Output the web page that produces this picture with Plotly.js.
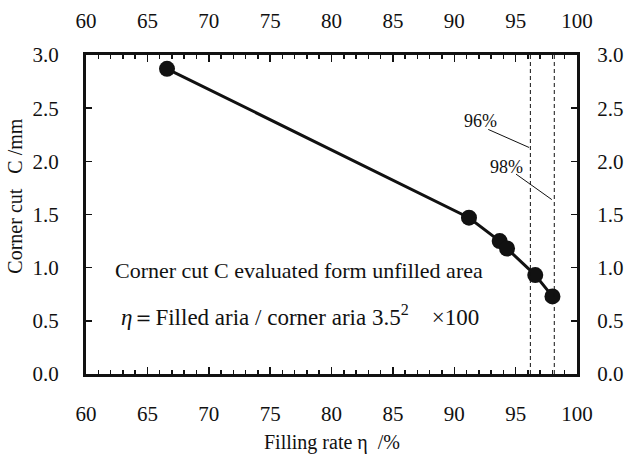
<!DOCTYPE html>
<html>
<head>
<meta charset="utf-8">
<script src="https://cdn.plot.ly/plotly-3.0.1.min.js"></script>
<style>html,body{margin:0;padding:0;background:#fff;}#chart{width:624px;height:454px;}</style>
</head>
<body>
<div id="chart"></div>
<script>
// Data
const fillingRate = [66.6, 91.2, 93.7, 94.3, 96.6, 98.0];   // η (%)
const cornerCut   = [2.87, 1.47, 1.25, 1.18, 0.93, 0.73];   // C (mm)
const refRates    = [96.2, 98.15];                           // dashed reference lines
const refLabels   = ["96%", "98%"];
const refLabelPos = [[92.1, 2.38], [94.27, 1.95]];
const refLeaders  = [[[92.77, 2.30], [96.1, 2.13]], [[95.03, 1.88], [97.95, 1.64]]];
const xTicks = [60, 65, 70, 75, 80, 85, 90, 95, 100];
const yTicks = [0.0, 0.5, 1.0, 1.5, 2.0, 2.5, 3.0];

const FONT = "Liberation Serif, Times New Roman, serif";
const INK = "#111111";

const traces = [
  {
    x: fillingRate, y: cornerCut, type: "scatter", mode: "lines+markers",
    line: {color: INK, width: 3},
    marker: {color: INK, size: 16},
    xaxis: "x", yaxis: "y", showlegend: false, hoverinfo: "skip"
  },
  {
    x: fillingRate, y: cornerCut, type: "scatter", mode: "markers",
    marker: {opacity: 0}, xaxis: "x2", yaxis: "y2", showlegend: false, hoverinfo: "skip"
  }
];

function xAxis(side, standoff) {
  return {
    range: [60, 100], tickvals: xTicks, ticktext: xTicks.map(String),
    ticks: "inside", ticklen: 7, tickwidth: 1.5, tickcolor: INK,
    minor: {dtick: 1, tick0: 60, ticks: "inside", ticklen: 4, tickwidth: 1.5, tickcolor: INK},
    showline: true, linewidth: 3, linecolor: INK,
    showgrid: false, zeroline: false, side: side,
    tickfont: {family: FONT, size: 21, color: INK},
    ticklabelstandoff: standoff, fixedrange: true
  };
}
function yAxis(side, standoff) {
  return {
    range: [0, 3], tickvals: yTicks, ticktext: yTicks.map(v => v.toFixed(1)),
    ticks: "inside", ticklen: 6, tickwidth: 1.5, tickcolor: INK,
    showline: true, linewidth: 3, linecolor: INK,
    showgrid: false, zeroline: false, side: side,
    tickfont: {family: FONT, size: 21, color: INK},
    ticklabelstandoff: standoff, fixedrange: true
  };
}

const xa = xAxis("bottom", 19);
xa.anchor = "y";
const xa2 = xAxis("top", 16);
xa2.overlaying = "x"; xa2.anchor = "y";
const ya = yAxis("left", 20);
ya.anchor = "x";
const ya2 = yAxis("right", 13);
ya2.overlaying = "y"; ya2.anchor = "x";

const shapes = refRates.map(r => ({
  type: "line", xref: "x", yref: "paper", x0: r, x1: r, y0: 0, y1: 1,
  line: {color: INK, width: 1, dash: "4px,3px"}
}));
refLeaders.forEach(seg => shapes.push({
  type: "line", xref: "x", yref: "y",
  x0: seg[0][0], y0: seg[0][1], x1: seg[1][0], y1: seg[1][1],
  line: {color: INK, width: 1}
}));

const annotations = [
  {text: "Corner cut C evaluated form unfilled area", xref: "paper", yref: "paper",
   x: 0.055, y: 0.325, xanchor: "left", yanchor: "middle", showarrow: false,
   font: {family: FONT, size: 22, color: INK}},
  {text: "<i>η</i>＝Filled aria / corner aria 3.5<sup>2</sup>\u00a0\u00a0\u00a0\u00a0×100", xref: "paper", yref: "paper",
   x: 0.068, y: 0.184, xanchor: "left", yanchor: "middle", showarrow: false,
   font: {family: FONT, size: 23, color: INK}},
  {text: "Filling rate η\u00a0\u00a0/%", xref: "paper", yref: "paper",
   x: 0.5, y: -0.215, xanchor: "center", yanchor: "middle", showarrow: false,
   font: {family: FONT, size: 20, color: INK}},
  {text: "Corner cut\u00a0\u00a0\u00a0C /mm", xref: "paper", yref: "paper", textangle: -90,
   x: -0.1446, y: 0.556, xanchor: "center", yanchor: "middle", showarrow: false,
   font: {family: FONT, size: 20, color: INK}}
];
refLabels.forEach((t, i) => annotations.push({
  text: t, xref: "x", yref: "y", x: refLabelPos[i][0], y: refLabelPos[i][1],
  xanchor: "center", yanchor: "middle", showarrow: false,
  font: {family: FONT, size: 18, color: INK}
}));

const layout = {
  width: 624, height: 454,
  margin: {l: 86, r: 47, t: 55, b: 80, pad: 0},
  paper_bgcolor: "#ffffff", plot_bgcolor: "#ffffff",
  xaxis: xa, xaxis2: xa2, yaxis: ya, yaxis2: ya2,
  shapes: shapes, annotations: annotations, showlegend: false
};

Plotly.newPlot("chart", traces, layout, {displayModeBar: false, staticPlot: true});
</script>
</body>
</html>
